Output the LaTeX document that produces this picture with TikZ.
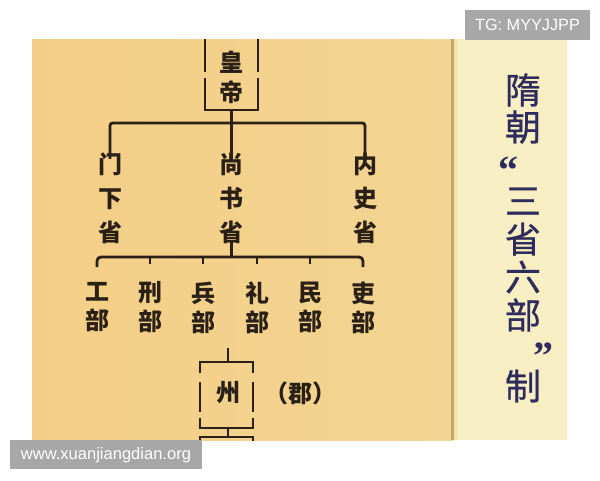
\documentclass[tikz,border=0pt]{standalone}
\usepackage{fontspec}
\setmainfont{Liberation Sans}
\newfontfamily\cjk{Noto Sans CJK SC}
\newfontfamily\cjkt[FakeBold=0.7]{Noto Sans CJK SC}
\newfontfamily\qf{Liberation Serif}
\definecolor{panel}{HTML}{F2D592}
\definecolor{panelR}{HTML}{F8EEC3}
\definecolor{sep}{HTML}{C4A868}
\definecolor{ink}{HTML}{2A2016}
\definecolor{navy}{HTML}{2E2C5C}
\definecolor{tag}{HTML}{A7A7A7}
\tikzset{
  tree/.style={line width=2.1pt, draw=ink, line cap=butt, line join=miter},
  col/.style={inner sep=0pt, align=center, text=ink, font=\cjk\bfseries\fontsize{18}{25.5}\selectfont},
  mincol/.style={inner sep=0pt, align=center, text=ink, font=\cjk\bfseries\fontsize{18}{21.75}\selectfont},
  title/.style={inner sep=0pt, text=navy, font=\cjkt\fontsize{27}{27}\selectfont},
  quote/.style={inner sep=0pt, text=navy, font=\qf\bfseries\fontsize{30}{30}\selectfont}
}
\begin{document}
\begin{tikzpicture}[x=0.75pt,y=-0.75pt]
\useasboundingbox (0,0) rectangle (600,480);
\fill[white] (0,0) rectangle (600,480);
% panels
\fill[left color=panel!92!orange, right color=panel] (32,39) rectangle (453,440);
\fill[panelR] (453,39) rectangle (567,440);
\fill[sep] (451,39) rectangle (454,440);
\fill[panel!60!panelR] (454,39) rectangle (457,440);

\begin{scope}
\clip (32,39) rectangle (453,440);
% emperor
\node[col, font=\cjk\bfseries\fontsize{18}{22.5}\selectfont] (emp) at (231.5,77) {皇\\帝};
\coordinate (eb) at (231.5,110);
\draw[tree] (205,39) -- (205,72);
\draw[tree] (258,39) -- (258,72);
\draw[tree] (205,78) -- (205,110) -- (258,110) -- (258,78);
% three departments
\node[col] (men) at (110,198) {门\\下\\省};
\node[col] (shang) at (231.5,198) {尚\\书\\省};
\node[col] (nei) at (365,198) {内\\史\\省};
\coordinate (b1) at (231.5,123);
\draw[tree] (eb) -- (b1) -- ([yshift=-5pt]shang.north);
\draw[tree, rounded corners=2pt] ([yshift=-5pt]men.north) -- (men.north |- b1) -- (nei.north |- b1) -- ([yshift=-5pt]nei.north);
% six ministries
\node[mincol] (gong) at (97,307.5) {工\\部};
\node[mincol] (xing) at (150,307.5) {刑\\部};
\node[mincol] (bing) at (203,307.5) {兵\\部};
\node[mincol] (li) at (257,307.5) {礼\\部};
\node[mincol] (min) at (310,307.5) {民\\部};
\node[mincol] (lib) at (363,307.5) {吏\\部};
\coordinate (b2) at (231.5,257);
\draw[tree] ([yshift=3pt]shang.south) -- (b2);
\draw[tree, rounded corners=3pt] (97,267) -- (gong.north |- b2) -- (lib.north |- b2) -- (363,267);
\foreach \m in {xing,bing,li,min} \draw[tree] (\m.north |- b2) -- ++(0,7);
% zhou
\node[col] (zhou) at (228,393) {州};
\node[col, anchor=west] (jun) at (264,393) {（郡）};
\coordinate (zt) at (228,348);
\draw[tree] (zt) -- (228,362);
\draw[tree] (200,373) -- (200,362) -- (253,362) -- (253,373);
\draw[tree] (200,382) -- (200,412);
\draw[tree] (253,382) -- (253,412);
\draw[tree] (200,418) -- (200,428) -- (253,428) -- (253,418);
\draw[tree] (228,428) -- (228,437);
\draw[tree] (200,445) -- (200,437) -- (253,437) -- (253,445);
\end{scope}

% title
\node[title] (t1) at (523,90) {隋};
\node[title] (t2) at (523,127) {朝};
\node[quote] (t3) at (508,170) {“};
\node[title] (t4) at (523,201) {三};
\node[title] (t5) at (523,239) {省};
\node[title] (t6) at (523,277) {六};
\node[title] (t7) at (523,315) {部};
\node[quote] (t8) at (543,356) {”};
\node[title] (t9) at (523,386) {制};

% watermarks
\fill[tag] (465,10) rectangle (590,40);
\node[text=white, inner sep=0pt, font=\fontsize{12.2}{12.2}\selectfont] (tg) at (527.5,25) {TG: MYYJJPP};
\fill[tag] (10,440) rectangle (202,469);
\node[text=white, inner sep=0pt, font=\fontsize{12.4}{12.4}\selectfont] (www) at (106,455) {www.xuanjiangdian.org};
\end{tikzpicture}
\end{document}
